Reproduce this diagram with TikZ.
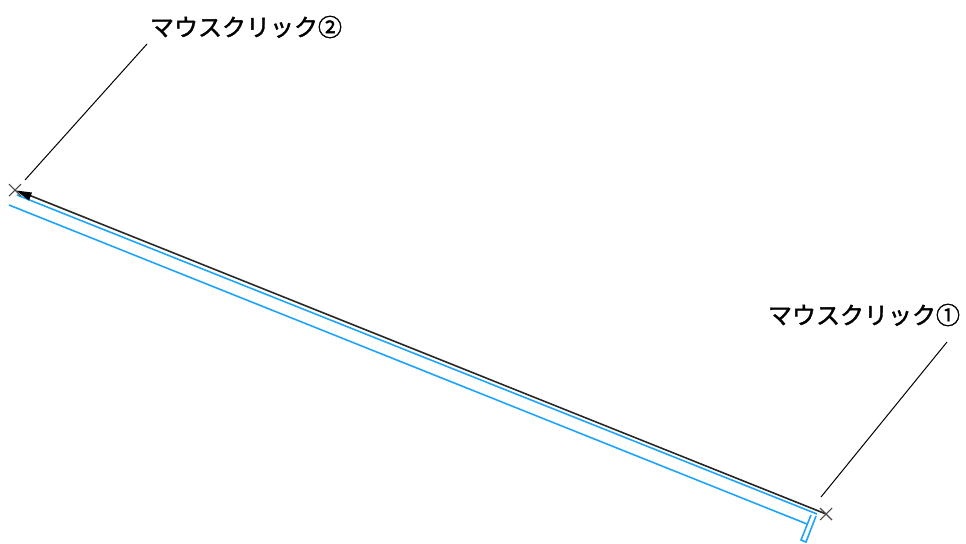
\documentclass[tikz,border=0pt]{standalone}
\usepackage{fontspec}
\newfontfamily\cjk[FakeBold=1.6]{Noto Sans CJK JP}
\definecolor{wallblue}{RGB}{30,165,250}
\definecolor{crossgrey}{RGB}{70,70,70}
\definecolor{runblack}{RGB}{40,40,40}
\tikzset{
  px/.style={x=0.75pt,y=-0.75pt},
  lbl/.style={font=\cjk\fontsize{18pt}{20pt}\selectfont,inner sep=0pt,anchor=center,text=black},
  leader/.style={draw=black,line width=0.75pt},
  wall/.style={draw=wallblue,line width=1.2pt},
  cross/.style={draw=crossgrey,line width=0.8pt},
  run/.style={draw=runblack,line width=1.2pt}
}
\begin{document}
\begin{tikzpicture}[px]
\useasboundingbox (0,0) rectangle (966,543);
\node[lbl] (two) at (246,27) {マウスクリック②};
\node[lbl] (one) at (864,315) {マウスクリック①};
\coordinate (c2) at (15,190);
\coordinate (c1) at (826,514);
\coordinate (l2a) at (147,44); \coordinate (l2b) at (25,180);
\coordinate (l1a) at (947,342); \coordinate (l1b) at (821,497);
\draw[leader] (l2a) -- (l2b);
\draw[leader] (l1a) -- (l1b);
% wall
\draw[wall] (17,195) -- (817,514);
\draw[wall] (9,205) -- (807,524);
\draw[wall] (811,515) -- (801,540) -- (806,542) -- (816,516);
% run
\draw[run] (c1) -- (30,195.5);
\fill[black] (16,190.5) -- (32,192.5) -- (29,200.5) -- cycle;
% crosses
\draw[cross] (c2) ++(-6,-6) -- ++(12,12) (c2) ++(6,-6) -- ++(-12,12);
\draw[cross] (c1) ++(-6,-6) -- ++(12,12) (c1) ++(6,-6) -- ++(-12,12);
\end{tikzpicture}
\end{document}
